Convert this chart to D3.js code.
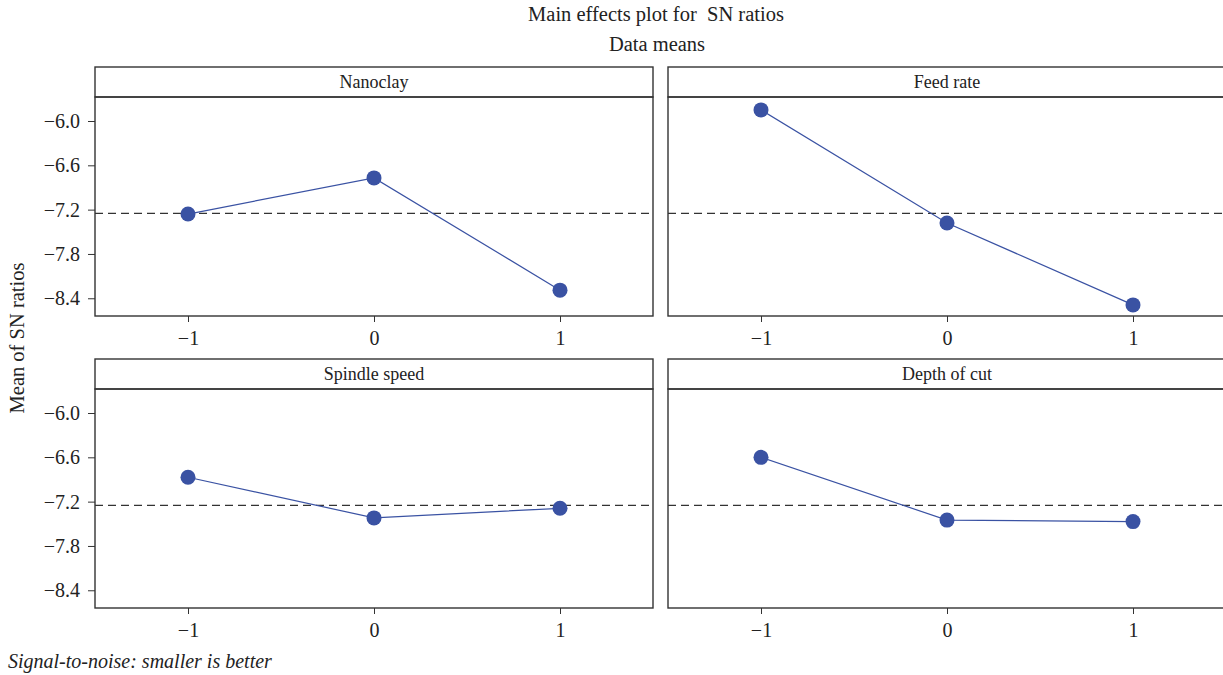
<!DOCTYPE html>
<html>
<head>
<meta charset="utf-8">
<script src="https://cdn.jsdelivr.net/npm/d3@7"></script>
<style>
  body { margin: 0; background: #fff; }
  svg text { font-family: "Liberation Serif", "DejaVu Serif", serif; white-space: pre; }
</style>
</head>
<body>
<div id="chart"></div>
<script>
// factor names and levels
var factors = ["Nanoclay", "Feed rate", "Spindle speed", "Depth of cut"];
var levels = [-1, 0, 1];

// mean SN ratio at each level
var nanoclay = [-7.26, -6.77, -8.29];
var feedRate = [-5.85, -7.38, -8.49];
var spindleSpeed = [-6.87, -7.42, -7.29];
var depthOfCut = [-6.60, -7.45, -7.47];

var yTicks = [-6.0, -6.6, -7.2, -7.8, -8.4];
var overallMean = -7.25;

var series = [nanoclay, feedRate, spindleSpeed, depthOfCut];

var width = 1223, height = 675;
var serif = '"Liberation Serif", "DejaVu Serif", serif';
var svg = d3.select('#chart').append('svg')
    .attr('width', width)
    .attr('height', height);

// panel layout
var colX = [95, 668];
var rowY = [67, 359];
var panelW = 558, headH = 30, plotH = 219;
var blue = '#3a52a3', ink = '#333';

var x = d3.scaleLinear().domain([-1.5, 1.5]).range([0, panelW]);
var y = d3.scaleLinear().domain([-8.64, -5.675]).range([plotH, 0]);

function label(txt, px, py, size) {
    return svg.append('text')
        .attr('x', px).attr('y', py)
        .attr('font-family', serif)
        .attr('font-size', size)
        .attr('fill', '#222')
        .attr('xml:space', 'preserve')
        .text(txt);
}

label('Main effects plot for  SN ratios', 656, 21, 20.5).attr('text-anchor', 'middle');
label('Data means', 657, 51, 20.5).attr('text-anchor', 'middle');
label('Mean of SN ratios', 0, 0, 20.5)
    .attr('text-anchor', 'middle')
    .attr('transform', 'translate(24,338) rotate(-90)');
label('Signal-to-noise: smaller is better', 8, 668, 20).attr('font-style', 'italic');

factors.forEach(function(name, i) {
    var col = i % 2, row = Math.floor(i / 2);
    var g = svg.append('g')
        .attr('transform', 'translate(' + colX[col] + ',' + rowY[row] + ')');

    // header strip
    g.append('rect')
        .attr('x', 0).attr('y', 0)
        .attr('width', panelW).attr('height', headH)
        .attr('fill', '#fff')
        .attr('stroke', ink).attr('stroke-width', 1.4);
    g.append('text')
        .attr('x', panelW / 2).attr('y', headH / 2 + 5.5)
        .attr('text-anchor', 'middle')
        .attr('font-family', serif)
        .attr('font-size', 18)
        .attr('fill', '#222')
        .text(name);

    var p = g.append('g').attr('transform', 'translate(0,' + headH + ')');

    p.append('rect')
        .attr('width', panelW).attr('height', plotH)
        .attr('fill', 'none')
        .attr('stroke', ink).attr('stroke-width', 1.4);

    // x axis
    var xa = p.append('g')
        .attr('transform', 'translate(0,' + plotH + ')')
        .call(d3.axisBottom(x).tickValues(levels).tickSize(6).tickPadding(9)
            .tickFormat(d3.format('d')));
    xa.select('.domain').remove();
    xa.selectAll('line').attr('stroke', ink);
    xa.selectAll('text').attr('font-size', 20).attr('fill', '#222')
        .attr('font-family', serif);

    // y axis on left column only
    if (col === 0) {
        var ya = p.append('g')
            .call(d3.axisLeft(y).tickValues(yTicks).tickSize(7).tickPadding(8)
                .tickFormat(d3.format('.1f')));
        ya.select('.domain').remove();
        ya.selectAll('line').attr('stroke', ink);
        ya.selectAll('text').attr('font-size', 20).attr('fill', '#222')
            .attr('font-family', serif);
    }

    // reference line
    p.append('line')
        .attr('x1', 0).attr('x2', panelW)
        .attr('y1', y(overallMean)).attr('y2', y(overallMean))
        .attr('stroke', ink).attr('stroke-width', 1.3)
        .attr('stroke-dasharray', '8,5');

    var pts = levels.map(function(l, k) { return [l, series[i][k]]; });

    p.append('path')
        .datum(pts)
        .attr('fill', 'none')
        .attr('stroke', blue)
        .attr('stroke-width', 1.2)
        .attr('d', d3.line()
            .x(function(d) { return x(d[0]); })
            .y(function(d) { return y(d[1]); }));

    p.selectAll('circle')
        .data(pts)
        .enter().append('circle')
        .attr('cx', function(d) { return x(d[0]); })
        .attr('cy', function(d) { return y(d[1]); })
        .attr('r', 7.5)
        .attr('fill', blue);
});
</script>
</body>
</html>
